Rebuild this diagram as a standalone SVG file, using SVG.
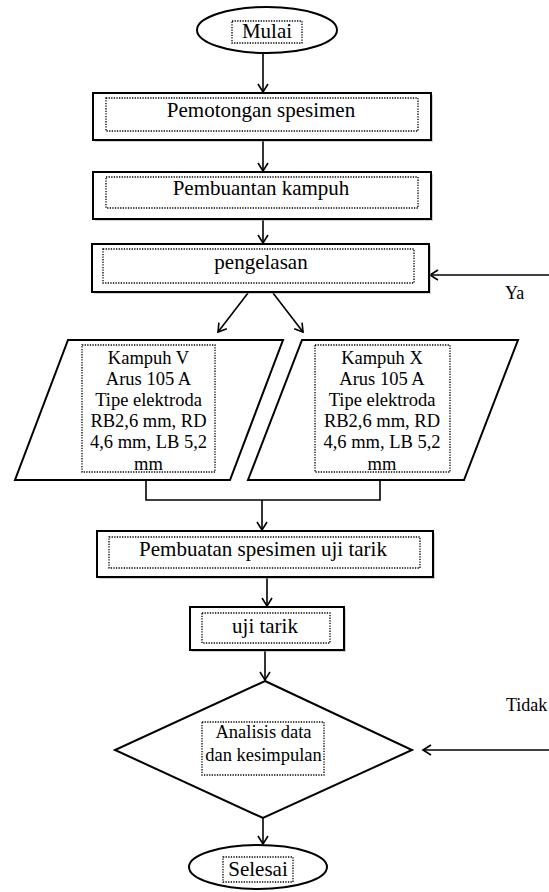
<svg xmlns="http://www.w3.org/2000/svg" width="549" height="892" viewBox="0 0 549 892" font-family="'Liberation Serif', 'DejaVu Serif', serif">
<style>
  .shape { fill: #ffffff; stroke: #000000; stroke-width: 2; }
  .shadow { fill: #9a9a9a; opacity: 0.45; }
  .dot { fill: none; stroke: #000000; stroke-width: 1.3; stroke-dasharray: 1.3 1.3; }
  .t { font-family: 'Liberation Serif', 'DejaVu Serif', serif; fill: #000000; text-anchor: middle; }
  .big { font-size: 21px; }
  .mid { font-size: 18.5px; }
  .lab { font-size: 18px; text-anchor: start; }
  .line { fill: none; stroke: #000000; stroke-width: 1.6; }
</style>
<defs>
  <marker id="arr" markerUnits="userSpaceOnUse" markerWidth="14" markerHeight="14" refX="9" refY="6" orient="auto">
    <path d="M1,1 L9,6 L1,11" fill="none" stroke="#000000" stroke-width="1.6"/>
  </marker>
</defs>
<rect width="549" height="892" fill="#ffffff"/>

<g id="connectors">
  <line class="line" x1="263" y1="53" x2="263" y2="92" marker-end="url(#arr)"/>
  <line class="line" x1="263" y1="141" x2="263" y2="171" marker-end="url(#arr)"/>
  <line class="line" x1="263" y1="220" x2="263" y2="243" marker-end="url(#arr)"/>
  <line class="line" x1="549" y1="275" x2="430" y2="275" marker-end="url(#arr)"/>
  <line class="line" x1="248" y1="293" x2="218" y2="332" marker-end="url(#arr)"/>
  <line class="line" x1="273" y1="293" x2="303" y2="332" marker-end="url(#arr)"/>
  <polyline class="line" points="146,481 146,500 380,500 380,481"/>
  <line class="line" x1="262" y1="500" x2="262" y2="530" marker-end="url(#arr)"/>
  <line class="line" x1="267" y1="578" x2="267" y2="606" marker-end="url(#arr)"/>
  <line class="line" x1="265" y1="651" x2="265" y2="680" marker-end="url(#arr)"/>
  <line class="line" x1="549" y1="750" x2="423" y2="750" marker-end="url(#arr)"/>
  <line class="line" x1="263" y1="818" x2="263" y2="844" marker-end="url(#arr)"/>
</g>

<g id="mulai">
  <ellipse class="shape" cx="267" cy="30" rx="70" ry="23"/>
  <rect class="dot" x="232" y="21" width="70" height="22"/>
  <text class="t big" x="267" y="38">Mulai</text>
</g>

<g id="pemotongan">
  <rect class="shadow" x="95" y="95" width="338" height="47"/>
  <rect class="shape" x="93" y="93" width="338" height="47"/>
  <rect class="dot" x="106" y="98" width="312" height="33"/>
  <text class="t big" x="261" y="117">Pemotongan spesimen</text>
</g>

<g id="pembuantan">
  <rect class="shadow" x="95" y="174" width="338" height="47"/>
  <rect class="shape" x="93" y="172" width="338" height="47"/>
  <rect class="dot" x="106" y="177" width="312" height="31"/>
  <text class="t big" x="261" y="195">Pembuantan kampuh</text>
</g>

<g id="pengelasan">
  <rect class="shadow" x="94" y="246" width="337" height="48"/>
  <rect class="shape" x="92" y="244" width="337" height="48"/>
  <rect class="dot" x="103" y="249" width="311" height="34"/>
  <text class="t big" x="261" y="269">pengelasan</text>
</g>

<g id="ya">
  <text class="t lab" x="505" y="299">Ya</text>
</g>

<g id="kampuh-v">
  <polygon class="shape" points="68,340 283,340 230,480 15,480"/>
  <rect class="dot" x="82" y="345" width="133" height="127"/>
  <text class="t mid" x="148.5" y="364">Kampuh V</text>
  <text class="t mid" x="148.5" y="385">Arus 105 A</text>
  <text class="t mid" x="148.5" y="406">Tipe elektroda</text>
  <text class="t mid" x="148.5" y="427">RB2,6 mm, RD</text>
  <text class="t mid" x="148.5" y="448">4,6 mm, LB 5,2</text>
  <text class="t mid" x="148.5" y="470">mm</text>
</g>

<g id="kampuh-x">
  <polygon class="shape" points="302,340 518,340 464,480 248,480"/>
  <rect class="dot" x="315" y="345" width="135" height="127"/>
  <text class="t mid" x="382" y="364">Kampuh X</text>
  <text class="t mid" x="382" y="385">Arus 105 A</text>
  <text class="t mid" x="382" y="406">Tipe elektroda</text>
  <text class="t mid" x="382" y="427">RB2,6 mm, RD</text>
  <text class="t mid" x="382" y="448">4,6 mm, LB 5,2</text>
  <text class="t mid" x="382" y="470">mm</text>
</g>

<g id="pembuatan-spesimen">
  <rect class="shadow" x="99" y="533" width="336" height="46"/>
  <rect class="shape" x="97" y="531" width="336" height="46"/>
  <rect class="dot" x="109" y="537" width="311" height="31"/>
  <text class="t big" x="263" y="556">Pembuatan spesimen uji tarik</text>
</g>

<g id="uji-tarik">
  <rect class="shadow" x="192" y="609" width="154" height="43"/>
  <rect class="shape" x="190" y="607" width="154" height="43"/>
  <rect class="dot" x="202" y="613" width="128" height="30"/>
  <text class="t big" x="265" y="633">uji tarik</text>
</g>

<g id="analisis">
  <polygon class="shape" points="265,681 412,750 263,818 115,750"/>
  <rect class="dot" x="202" y="722" width="122" height="53"/>
  <text class="t mid" x="263.5" y="738">Analisis data</text>
  <text class="t mid" x="263.5" y="761">dan kesimpulan</text>
</g>

<g id="tidak">
  <text class="t lab" x="506" y="711">Tidak</text>
</g>

<g id="selesai">
  <ellipse class="shape" cx="258" cy="867" rx="69" ry="22"/>
  <rect class="dot" x="223" y="857" width="70" height="25"/>
  <text class="t big" x="258" y="876">Selesai</text>
</g>
</svg>
